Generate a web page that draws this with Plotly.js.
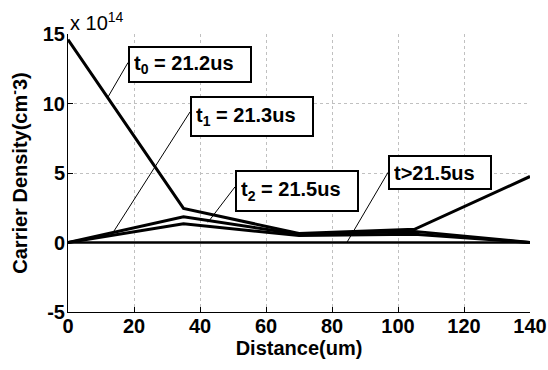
<!DOCTYPE html>
<html><head><meta charset="utf-8">
<script src="https://cdn.plot.ly/plotly-3.0.1.min.js"></script>
<style>body{margin:0;background:#fff}#c{width:548px;height:370px}</style>
</head><body><div id="c"></div>
<script>
// distance (um)
const distance = [0, 35, 70, 105, 140];
// carrier density, units of 1e14 cm^-3
const t0 = [14.6, 2.45, 0.65, 0.95, 4.75];
const t1 = [0, 1.85, 0.6, 0.8, 0];
const t2 = [0, 1.35, 0.5, 0.6, 0];
const tLate = [0, 0, 0, 0, 0];
const seriesNames = ['t0 = 21.2us', 't1 = 21.3us', 't2 = 21.5us', 't>21.5us'];
const labelTexts = ['t<sub>0</sub> = 21.2us', 't<sub>1</sub> = 21.3us', 't<sub>2</sub> = 21.5us', 't>21.5us'];
const xTicks = [0, 20, 40, 60, 80, 100, 120, 140];
const yTicks = [-5, 0, 5, 10, 15];

const allY = [t0, t1, t2, tLate];
const widths = [3, 3, 3, 2.5];
const traces = allY.map((y, i) => ({
  x: distance, y: y, type: 'scatter', mode: 'lines', name: seriesNames[i],
  line: {color: '#000', width: widths[i]}, showlegend: false, hoverinfo: 'skip'
}));

const FONT = 'Liberation Sans, Arial, sans-serif';
// label boxes: left edge x, center y (data units); pointer from curve to box
const boxes = [
  {x: 18.2, y: 12.8, w: 112, h: 25, px: 12, py: 10.42, ex: 18.2, ey: 12.95},
  {x: 37.0, y: 9.05, w: 112, h: 29, px: 13.6, py: 0.7, ex: 37.0, ey: 9.4},
  {x: 50.6, y: 3.7, w: 112, h: 30, px: 42.4, py: 1.45, ex: 50.6, ey: 4.0},
  {x: 97.0, y: 5.05, w: 92, h: 23, px: 84.5, py: 0, ex: 97.0, ey: 5.05}
];
const annotations = boxes.map((b, i) => ({
  x: b.x, y: b.y, xref: 'x', yref: 'y', xanchor: 'left', yanchor: 'middle',
  text: labelTexts[i], showarrow: false, align: 'left', valign: 'middle',
  font: {family: FONT, size: 20, color: '#000', weight: 'bold'},
  bgcolor: '#fff', bordercolor: '#000', borderwidth: 2, borderpad: 4, width: b.w, height: b.h
}));
annotations.push({
  x: 0, y: 1, xref: 'paper', yref: 'paper', xanchor: 'left', yanchor: 'bottom',
  text: 'x 10<sup>14</sup>', showarrow: false, yshift: -2,
  font: {family: FONT, size: 20, color: '#000'}
});
const shapes = boxes.map(b => ({
  type: 'line', xref: 'x', yref: 'y', x0: b.px, y0: b.py, x1: b.ex, y1: b.ey,
  line: {color: '#000', width: 1}
}));

const tickFont = {family: FONT, size: 20, color: '#000', weight: 'bold'};
const titleFont = {family: FONT, size: 20, color: '#000', weight: 'bold'};
const layout = {
  width: 548, height: 370,
  margin: {l: 68, r: 18, t: 34, b: 58},
  paper_bgcolor: '#fff', plot_bgcolor: '#fff',
  xaxis: {
    range: [0, 140], tickvals: xTicks, ticktext: xTicks.map(String),
    showgrid: true, gridcolor: '#c0c0c0', griddash: 'dot', gridwidth: 1,
    zeroline: false, showline: true, linecolor: '#000', linewidth: 1,
    ticks: 'inside', ticklen: 5, tickcolor: '#000', tickfont: tickFont,
    ticklabelstandoff: -4,
    title: {text: 'Distance(um)', font: titleFont, standoff: 2}
  },
  yaxis: {
    range: [-5, 15], tickvals: yTicks, ticktext: yTicks.map(String),
    showgrid: true, gridcolor: '#c0c0c0', griddash: 'dot', gridwidth: 1,
    zeroline: false, showline: true, linecolor: '#000', linewidth: 1,
    ticks: 'inside', ticklen: 5, tickcolor: '#000', tickfont: tickFont,
    ticklabelstandoff: -2,
    title: {text: 'Carrier Density(cm<sup>-</sup>3)', font: titleFont, standoff: 9}
  },
  annotations: annotations, shapes: shapes
};
Plotly.newPlot('c', traces, layout, {staticPlot: true});
</script></body></html>
